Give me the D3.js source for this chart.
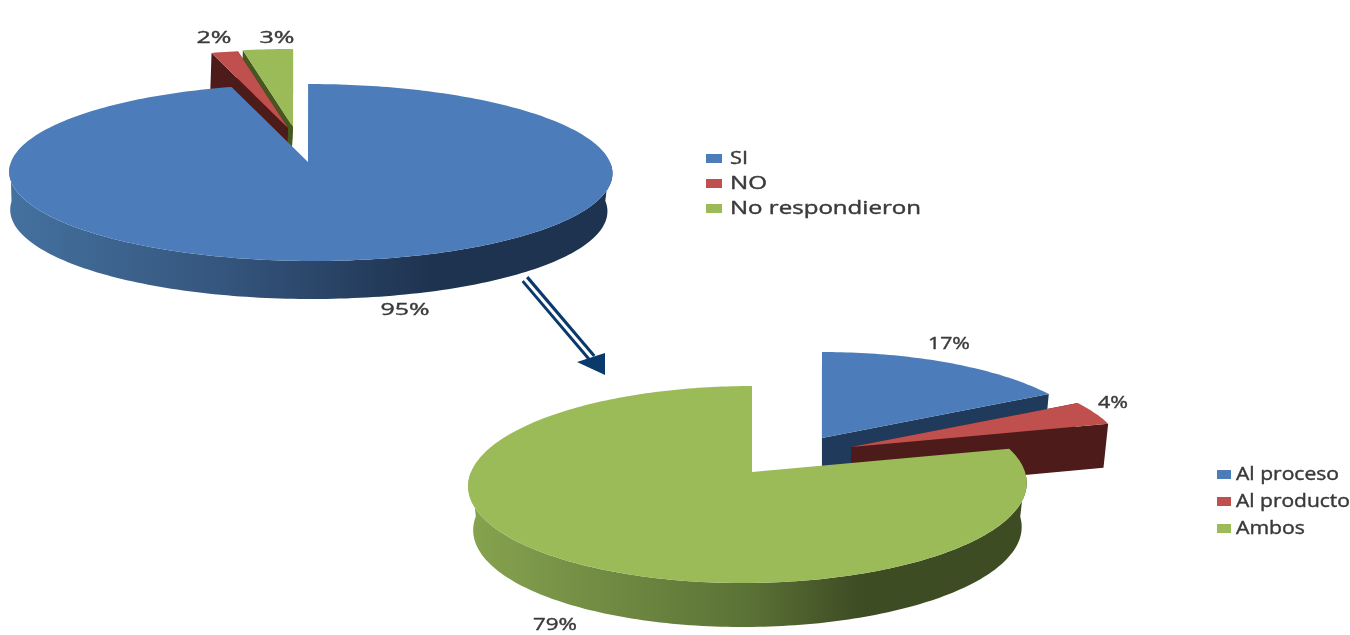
<!DOCTYPE html>
<html><head><meta charset="utf-8">
<script src="https://cdn.jsdelivr.net/npm/d3@7"></script>
<style>html,body{margin:0;background:#fff}svg{display:block;filter:blur(0.6px)}text{font-family:"Open Sans",sans-serif;fill:#3a3a3a;stroke:#3a3a3a;stroke-width:.4px}</style>
</head><body><div id="c"></div>
<script>
const topCategories=["SI","NO","No respondieron"];
const topValues=[95.4,1.6,3.0];
const topLabels=["95%","2%","3%"];
const bottomCategories=["Al proceso","Al producto","Ambos"];
const bottomValues=[17,4,79];
const bottomLabels=["17%","4%","79%"];
const topColors=["#4c7dba","#c0504d","#9bbb59"];
const bottomColors=topColors;

const svg=d3.select("#c").append("svg").attr("width",1350).attr("height",635);
const defs=svg.append("defs");

function gradient(id,x0,x1,stops){
  const g=defs.append("linearGradient").attr("id",id).attr("gradientUnits","userSpaceOnUse")
    .attr("x1",x0).attr("x2",x1).attr("y1",0).attr("y2",0);
  stops.forEach(([o,c])=>g.append("stop").attr("offset",o).attr("stop-color",c));
}
gradient("sideTop",8,612,[[0,"#44719f"],[.35,"#35567e"],[.7,"#1e3350"],[1,"#1e3350"]]);
gradient("sideBot",469,1027,[[0,"#86a34f"],[.5,"#5b7236"],[.7,"#3e4c23"],[1,"#3e4c23"]]);

// Perspective projection of the pie plane.
function projector(p){
  return (a,off=[0,0])=>{
    const u=Math.sin(a),v=Math.cos(a),d=1+p.k*v;
    return [p.cx+off[0]+(p.A*u+p.skew*v)/d,p.cy+off[1]-p.B*v/d];
  };
}
const pie=d3.pie().sort(null).value(d=>d);
const poly=d3.line();

function drawPie(g,cfg,values,colors,walls,sides){
  const P=projector(cfg);
  const arcs=pie(values);
  cfg.order.forEach(i=>{
    const s=arcs[i],off=cfg.off[i],h=cfg.h;
    const n=Math.max(4,Math.ceil((s.endAngle-s.startAngle)/0.02));
    const angles=d3.range(n+1).map(j=>s.startAngle+(s.endAngle-s.startAngle)*j/n);
    const rim=angles.map(a=>P(a,off));
    const apex=[cfg.cx+off[0]+cfg.apexDx,cfg.cy+off[1]];
    // the lower plane is slightly narrower than the upper one
    const mid=cfg.cx+off[0];
    const down=q=>[mid+(q[0]-mid)*cfg.sx+cfg.bx,q[1]+h];
    if(cfg.cutFaces[i]) [rim[0],rim[n]].forEach(e=>{
      g.append("path").attr("d",poly([apex,e,down(e),down(apex)])+"Z").attr("fill",walls[i]);
    });
    // outer wall: only the part of the rim that faces the viewer
    const front=angles.map(a=>P(a,off)).filter((q,j)=>Math.cos(angles[j])<0);
    if(front.length>1){
      g.append("path").attr("d",poly(front.concat(front.map(down).reverse()))+"Z").attr("fill",sides[i]);
    }
    g.append("path").attr("d",poly([apex].concat(rim))+"Z").attr("fill",colors[i]);
  });
}

const g1=svg.append("g"),g2=svg.append("g");
drawPie(g1,{cx:310.5,cy:162,A:299.5,B:87.25,k:.1186,h:38,sx:.99,bx:-2,skew:-2.7,apexDx:-2.5,order:[2,1,0],
  cutFaces:[false,true,true],
  off:[[0,0],[-20,-34],[-15,-35]]},topValues,topColors,
  ["#1f3a5c","#4d1b19","#46581f"],["url(#sideTop)","#4d1b19","#46581f"]);
drawPie(g2,{cx:748,cy:472,A:277,B:96.9,k:.127,h:44,sx:.982,bx:0,skew:4.5,apexDx:4,order:[0,1,2],
  cutFaces:[true,true,false],
  off:[[70,-34],[99,-25],[0,0]]},bottomValues,bottomColors,
  ["#203a5c","#4d1b19","#4a5c2a"],["#203a5c","#4d1b19","url(#sideBot)"]);

// Arrow
const ar=svg.append("g");
ar.append("line").attr("x1",525).attr("y1",279).attr("x2",592).attr("y2",358).attr("stroke","#0a3a6b").attr("stroke-width",9);
ar.append("line").attr("x1",523).attr("y1",277).attr("x2",592).attr("y2",358).attr("stroke","#fff").attr("stroke-width",3);
ar.append("path").attr("d","M577,362L605,353L605,375Z").attr("fill","#0a3a6b");

// Value labels
function lab(t,x,y,w){
  svg.append("text").attr("x",x-w/2).attr("y",y).attr("font-size",17)
    .attr("textLength",w).attr("lengthAdjust","spacingAndGlyphs").text(t);
}
const topPos=[[405,315,49],[214,43,35],[277,43,35]],botPos=[[949,349,42],[1113,408,30],[555,630,44]];
topLabels.forEach((t,i)=>lab(t,...topPos[i]));
bottomLabels.forEach((t,i)=>lab(t,...botPos[i]));

// Legends
function legend(cats,colors,x,ys,sw,sh,tx,widths){
  cats.forEach((c,i)=>{
    svg.append("rect").attr("x",x).attr("y",ys[i]).attr("width",sw).attr("height",sh).attr("fill",colors[i]);
    svg.append("text").attr("x",tx).attr("y",ys[i]+sh+1).attr("font-size",17.5)
      .attr("textLength",widths[i]).attr("lengthAdjust","spacingAndGlyphs").text(c);
  });
}
legend(topCategories,topColors,706,[154,179,204],16,9,730,[18,37,191]);
legend(bottomCategories,bottomColors,1217,[470,497,524],14,9,1236,[103,114,69]);
</script></body></html>
